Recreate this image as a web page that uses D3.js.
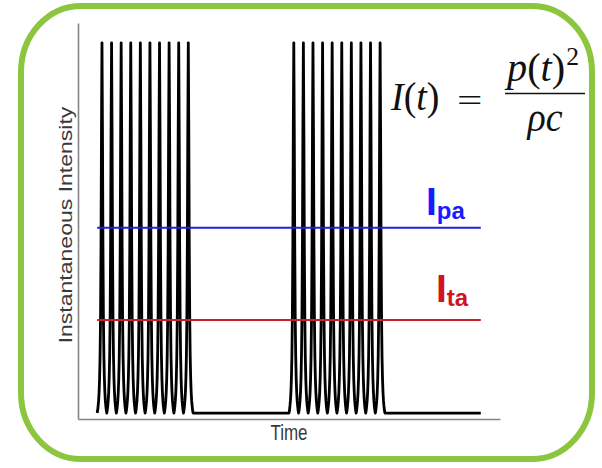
<!DOCTYPE html>
<html>
<head>
<meta charset="utf-8">
<script src="https://cdn.jsdelivr.net/npm/d3@7"></script>
<style>
  html, body { margin: 0; padding: 0; background: #ffffff; }
  svg { display: block; }
</style>
</head>
<body>
<script>
// ---------------- data ----------------
const timeDomain = [0, 44];          // arbitrary time units (one pulse period = 1)
const intensityDomain = [0, 1];      // normalised instantaneous intensity

// Peak times of the pulses in the two bursts
const burst1Peaks = [2.5, 3.5, 4.5, 5.5, 6.5, 7.5, 8.5, 9.5, 10.5, 11.5];
const burst2Peaks = [22.5, 23.5, 24.5, 25.5, 26.5, 27.5, 28.5, 29.5, 30.5, 31.5];
// Shape of one pulse: offset from the peak (periods) and intensity
const pulseOffset = [-0.5, -0.45, -0.4, -0.35, -0.3, -0.25, -0.2, -0.15, -0.1, -0.05, 0,
                      0.05, 0.1, 0.15, 0.2, 0.25, 0.3, 0.35, 0.4, 0.45, 0.5];
const pulseValue  = [0.015, 0.022, 0.033, 0.047, 0.068, 0.102, 0.157, 0.255, 0.436, 0.736, 0.95,
                     0.736, 0.436, 0.255, 0.157, 0.102, 0.068, 0.047, 0.033, 0.022, 0.015];
// Off period and end of the record
const offTime = [12, 22, 32, 42];
const offValue = [0.015, 0.015, 0.015, 0.015];

// Average levels
const levelNames = ["pa", "ta"];
const levelValues = [0.483, 0.25];
const levelStart = [2, 2];
const levelEnd = [42, 42];
const levelColors = ["#1f1fe6", "#c8202a"];
const levelTextColors = ["#1a1aff", "#d0141e"];

const xAxisTitle = "Time";
const yAxisTitle = "Instantaneous Intensity";

// ---------------- build signal ----------------
function burst(peaks) {
  const pts = [];
  peaks.forEach((p, k) => {
    pulseOffset.forEach((o, j) => {
      if (k > 0 && j === 0) return;
      pts.push([p + o, pulseValue[j]]);
    });
  });
  return pts;
}
const signal = [].concat(
  burst(burst1Peaks),
  [[offTime[1], offValue[1]]],
  burst(burst2Peaks),
  [[offTime[3], offValue[3]]]
);

// ---------------- drawing ----------------
const W = 602, H = 468;
const svg = d3.select("body").append("svg").attr("width", W).attr("height", H);

const x = d3.scaleLinear().domain(timeDomain).range([78, 500]);
const y = d3.scaleLinear().domain(intensityDomain).range([419, 23]);

// axes (no ticks)
svg.append("g").attr("transform", `translate(0,${y(0)})`)
  .call(d3.axisBottom(x).tickValues([]).tickSizeOuter(0));
svg.append("g").attr("transform", `translate(${x(0)},0)`)
  .call(d3.axisLeft(y).tickValues([]).tickSizeOuter(0));
svg.selectAll(".domain").attr("stroke", "#858585").attr("stroke-width", 1.6);

// signal
svg.append("path")
  .datum(signal)
  .attr("fill", "none")
  .attr("stroke", "#000")
  .attr("stroke-width", 2.8)
  .attr("stroke-linejoin", "round")
  .attr("d", d3.line().x(d => x(d[0])).y(d => y(d[1])));

// average level lines
levelValues.forEach((v, i) => {
  svg.append("line")
    .attr("x1", x(levelStart[i])).attr("x2", x(levelEnd[i]))
    .attr("y1", y(v)).attr("y2", y(v))
    .attr("stroke", levelColors[i]).attr("stroke-width", 2);
});

// level labels
const labelPos = [[426, 215], [436, 302]];
levelNames.forEach((n, i) => {
  const t = svg.append("text")
    .attr("x", labelPos[i][0]).attr("y", labelPos[i][1])
    .attr("font-family", "Liberation Sans, Arial, sans-serif")
    .attr("font-weight", "bold")
    .attr("fill", levelTextColors[i]);
  t.append("tspan").attr("font-size", 39).text("I");
  t.append("tspan").attr("font-size", 24).attr("dy", 4).text(n);
});

// axis titles
svg.append("text")
  .attr("transform", `translate(289,440) scale(1,1.25)`)
  .attr("text-anchor", "middle")
  .attr("font-family", "Liberation Sans, Arial, sans-serif")
  .attr("font-size", 17).attr("fill", "#3a3a3a")
  .text(xAxisTitle);
svg.append("text")
  .attr("transform", `translate(72,225) rotate(-90) scale(1.28,1)`)
  .attr("text-anchor", "middle")
  .attr("font-family", "Liberation Sans, Arial, sans-serif")
  .attr("font-size", 18).attr("fill", "#3a3a3a")
  .text(yAxisTitle);

// equation I(t) = p(t)^2 / (rho c)
const eqFont = "Liberation Serif, 'DejaVu Serif', serif";
const lhs = svg.append("text")
  .attr("transform", "translate(391,110) scale(1.15,1.2)")
  .attr("font-family", eqFont).attr("font-size", 33).attr("fill", "#111");
lhs.append("tspan").attr("font-style", "italic").text("I");
lhs.append("tspan").text("(");
lhs.append("tspan").attr("font-style", "italic").text("t");
lhs.append("tspan").text(")");

svg.append("text")
  .attr("transform", "translate(457,111) scale(1.25,0.85)")
  .attr("font-family", eqFont).attr("font-size", 36).attr("fill", "#111")
  .text("=");

const num = svg.append("text")
  .attr("transform", "translate(507,81) scale(1.22,1.2)")
  .attr("font-family", eqFont).attr("font-size", 33).attr("fill", "#111");
num.append("tspan").attr("font-style", "italic").text("p");
num.append("tspan").text("(");
num.append("tspan").attr("font-style", "italic").text("t");
num.append("tspan").text(")");
num.append("tspan").attr("font-size", 21).attr("dy", -13).attr("dx", 1).text("2");

svg.append("line").attr("x1", 505).attr("x2", 585).attr("y1", 93.5).attr("y2", 93.5)
  .attr("stroke", "#111").attr("stroke-width", 1.6);

const den = svg.append("text")
  .attr("transform", "translate(545,131) scale(1.15,1.2)")
  .attr("text-anchor", "middle")
  .attr("font-family", eqFont).attr("font-size", 33).attr("fill", "#111");
den.append("tspan").attr("font-style", "italic").text("ρc");

// green rounded frame
svg.append("rect")
  .attr("x", 21).attr("y", 6).attr("width", 571).attr("height", 453)
  .attr("rx", 60).attr("ry", 66)
  .attr("fill", "none").attr("stroke", "#8cc63f").attr("stroke-width", 6);
</script>
</body>
</html>
